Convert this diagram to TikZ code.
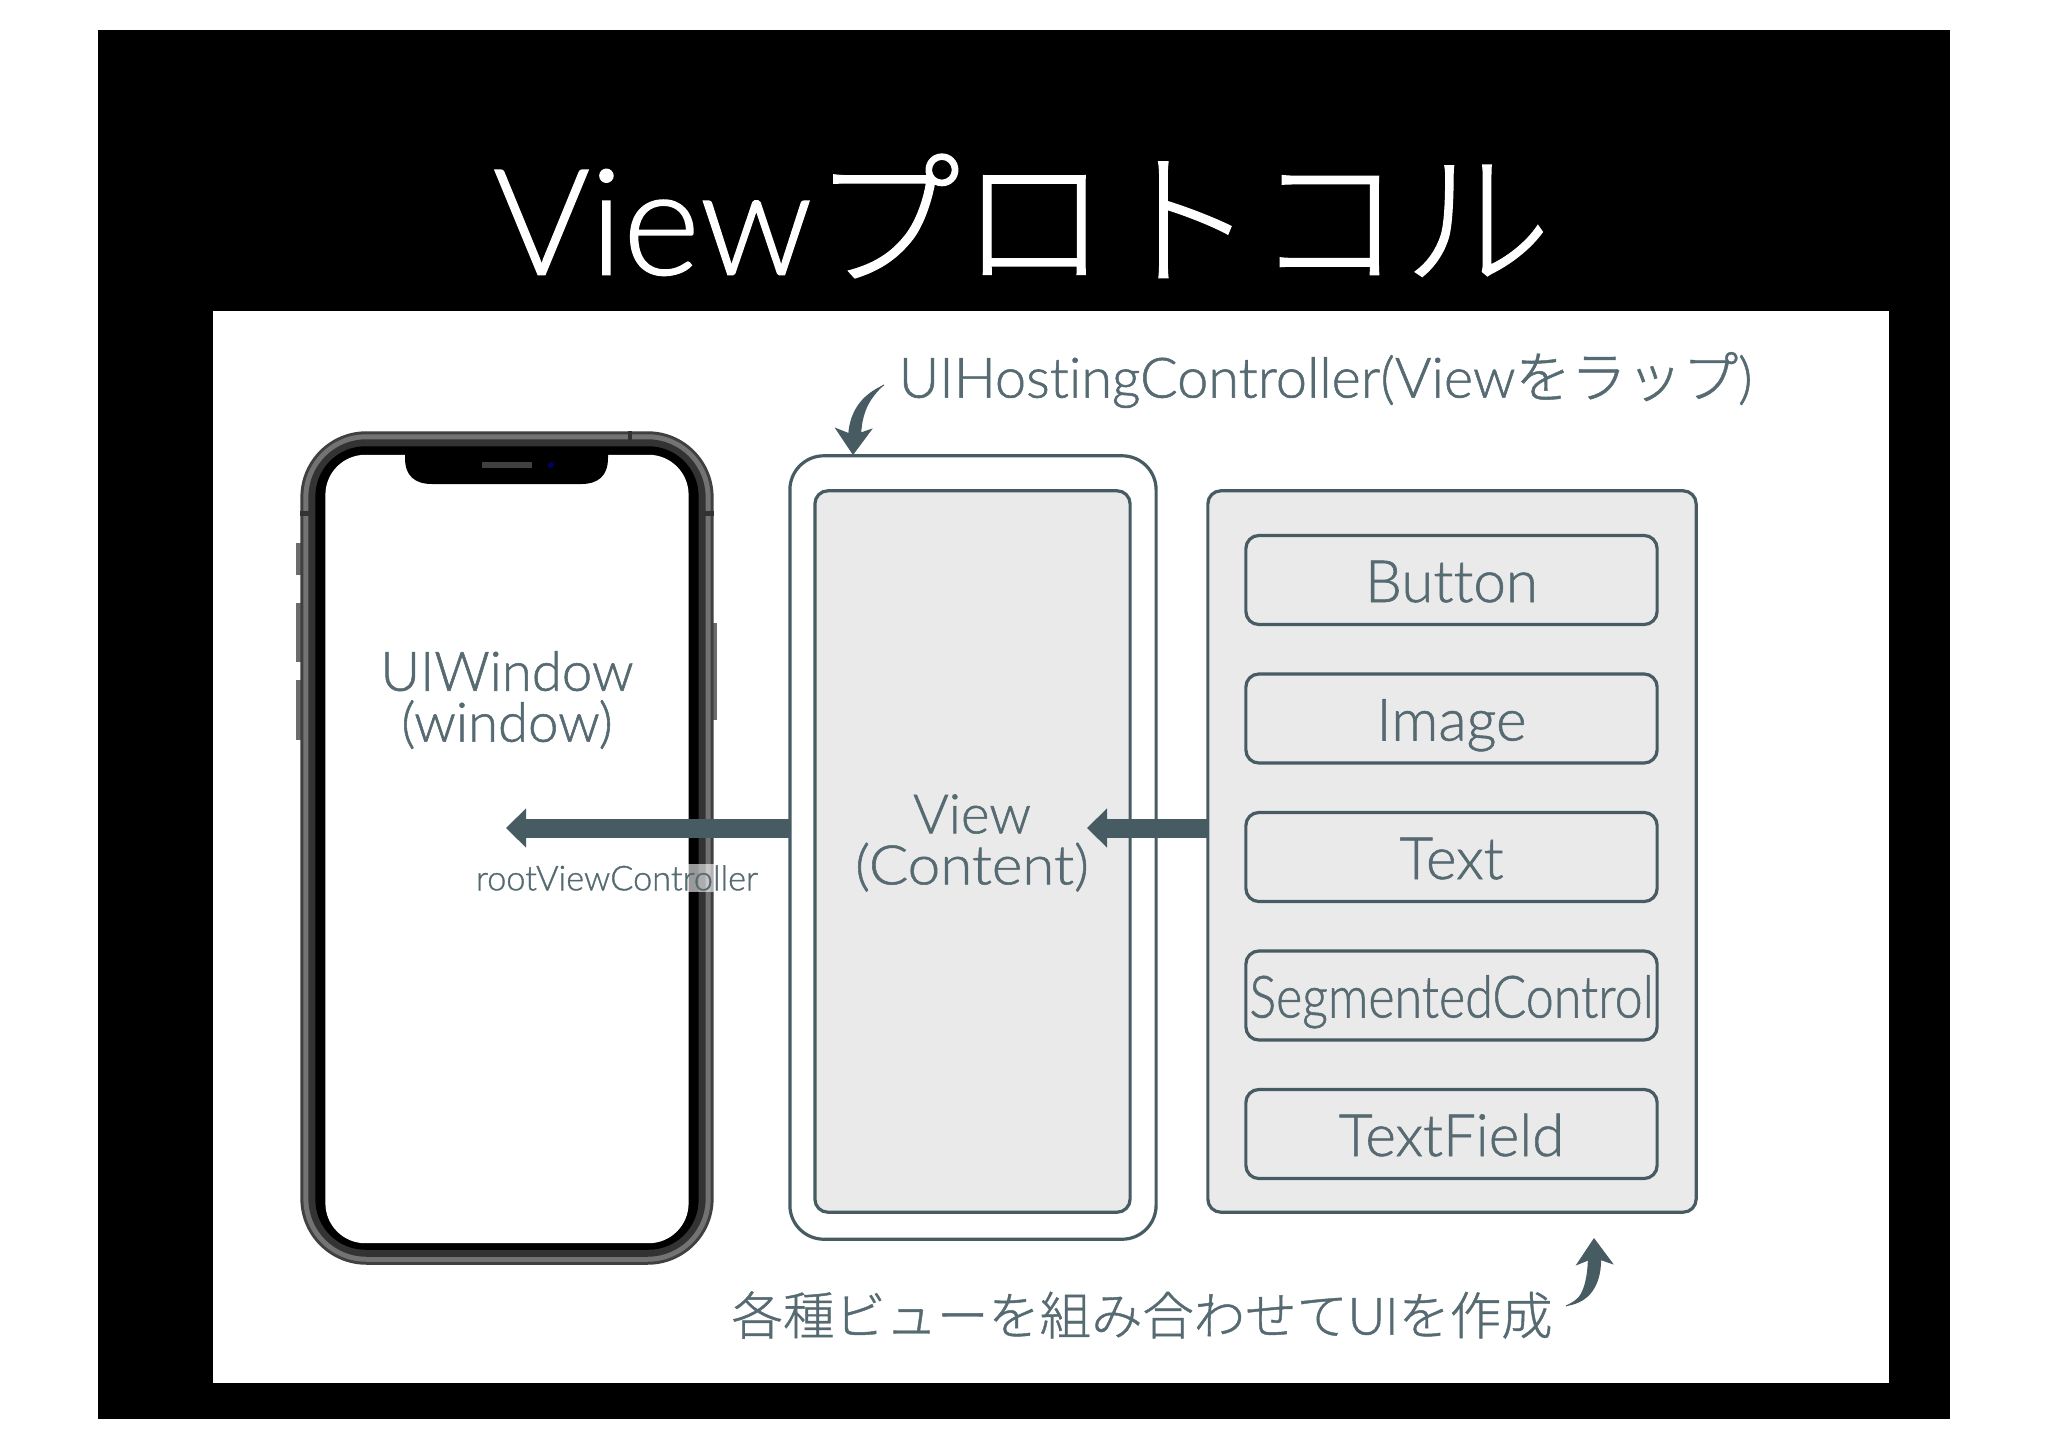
\documentclass[tikz,border=0pt]{standalone}
\usepackage{fontspec}
\usetikzlibrary{arrows.meta}
\setmainfont{Lato Light}[Ligatures=NoCommon,FakeBold=1]
\newfontfamily\jpfont{Noto Sans CJK JP Light}[FakeBold=0.8]
\definecolor{slate}{HTML}{475B63}
\definecolor{slatetext}{HTML}{566A72}
\definecolor{boxgray}{HTML}{EBEAEB}
\tikzset{
  box/.style={draw=slate, line width=0.032cm, fill=boxgray, rounded corners=0.13cm, outer sep=0pt, inner sep=0pt, text=slatetext, font=\fontsize{15.5}{14.5}\selectfont},
  itembox/.style={box, font=\fontsize{16.6}{18}\selectfont, minimum width=4.11cm, minimum height=0.89cm, text height=0.56cm, text depth=0.12cm},
  shell/.style={rounded corners=#1, outer sep=0pt, inner sep=0pt},
  bigarrow/.style={slate, line width=0.19cm, -{Triangle[length=0.20cm,width=0.38cm]}},
  curvearrow/.style={slate, line width=0.01cm, -{Stealth[length=0.27cm,width=0.38cm,inset=0.07cm]}}
}
\begin{document}
\begin{tikzpicture}[x=0.01cm, y=-0.01cm]
        \useasboundingbox (0,0) rectangle (2048,1448);
        \fill[white] (0,0) rectangle (2048,1448);
        \fill[black] (98,30) rectangle (1950,1419);
        \node[white, font=\fontsize{42}{50}\selectfont] (title) at (1022,216) {View{\jpfont プロトコル}};
        \node[fill=white, minimum width=16.75cm, minimum height=10.72cm, outer sep=0pt] (slide) at (1050.5,847) {};
        % phone
        \fill[gray!85!black] (296,543) rectangle (302,575);
        \fill[gray!85!black] (296,603) rectangle (302,662);
        \fill[gray!85!black] (296,680) rectangle (302,740);
        \fill[gray!85!black] (711,623) rectangle (717,720);
        \node[fill=black!75, shell=0.66cm, minimum width=4.13cm, minimum height=8.33cm] (phonebody) at (507,848) {};
        \node[fill=black!55, shell=0.63cm, minimum width=4.07cm, minimum height=8.27cm] (phonering) at (507,848) {};
        \node[fill=black!80, shell=0.58cm, minimum width=3.97cm, minimum height=8.17cm] (phoneinner) at (507,848) {};
        \node[fill=black, shell=0.50cm, minimum width=3.83cm, minimum height=8.03cm] (phoneblack) at (507,848) {};
        \node[fill=white, shell=0.40cm, minimum width=3.63cm, minimum height=7.88cm] (window) at (507,849) {};
        \node[text=slatetext, align=center, font=\fontsize{15.5}{14.5}\selectfont] (windowlabel) at (507,700) {UIWindow\\(window)};
        \fill[black] (405,450) -- (405,458) .. controls (405,476) and (415,484) .. (432,484) -- (581,484) .. controls (598,484) and (608,476) .. (608,458) -- (608,450) -- cycle;
        \fill[black!75] (482,462) rectangle (532,468);
        \fill[blue!40!black] (551,465) circle (0.03cm);
        \fill[black!80] (300,511) rectangle (309,516);
        \fill[black!80] (705,511) rectangle (714,516);
        \fill[black!80] (628,431) rectangle (632,440);
        % view boxes
        \node[draw=slate, line width=0.032cm, fill=white, rounded corners=0.34cm, minimum width=3.66cm, minimum height=7.83cm, outer sep=0pt] (host) at (973,847.5) {};
        \node[box, minimum width=3.15cm, minimum height=7.21cm] (content) at (972.5,851.5) {};
        \node[text=slatetext, align=center, font=\fontsize{15.5}{14.5}\selectfont] (contentlabel) at (972,843) {View\\\scalebox{1.07}[1]{(Content)}};
        \node[box, minimum width=4.88cm, minimum height=7.21cm] (parts) at (1452,851.5) {};
        \node[itembox] (button) at (1451.5,580) {Button};
        \node[itembox] (image) at (1451.5,718.5) {Image};
        \node[itembox] (text) at (1451.5,857) {Text};
        \node[itembox] (segmented) at (1451.5,995.5) {\scalebox{0.86}[1]{SegmentedControl}};
        \node[itembox] (textfield) at (1451.5,1134) {TextField};
        % arrows between them
        \coordinate (windowtip) at (506,828);
        \coordinate (contenttip) at (1087,828);
        \draw[bigarrow] (host.west |- windowtip) -- (windowtip);
        \draw[bigarrow] (parts.west |- contenttip) -- (contenttip);
        \node[text=slatetext, fill=white, fill opacity=0.6, text opacity=1, inner sep=0.01cm, font=\fontsize{9.75}{11}\selectfont] (rootlabel) at (617,878) {rootViewController};
        % labels with their curved arrows
        \node[text=slatetext, anchor=west, inner sep=0pt, font=\fontsize{15.85}{18}\selectfont] (hostlabel) at (898,380) {UIHostingController(View{\jpfont をラップ})};
        \node[text=slatetext, anchor=west, inner sep=0pt, font=\fontsize{14.6}{18}\selectfont] (partslabel) at (731,1315) {{\jpfont 各種ビューを組み合わせて}UI{\jpfont を作成}};
        \coordinate (hoststart) at (884,385);
        \coordinate (hosttip) at (853,455);
        \coordinate (partsstart) at (1566,1306);
        \coordinate (partstip) at (1594,1238);
        \fill[slate] (hoststart) .. controls (862,394) and (848,412) .. (848,440) -- (861,440) .. controls (861,412) and (870,398) .. cycle;
        \draw[curvearrow] (hoststart) .. controls (864,396) and (854,415) .. (hosttip);
        \fill[slate] (partsstart) .. controls (1583,1301) and (1588,1281) .. (1588,1252) -- (1601,1252) .. controls (1603,1286) and (1589,1303) .. cycle;
        \draw[curvearrow] (partsstart) .. controls (1587,1297) and (1595,1276) .. (partstip);
\end{tikzpicture}
\end{document}
